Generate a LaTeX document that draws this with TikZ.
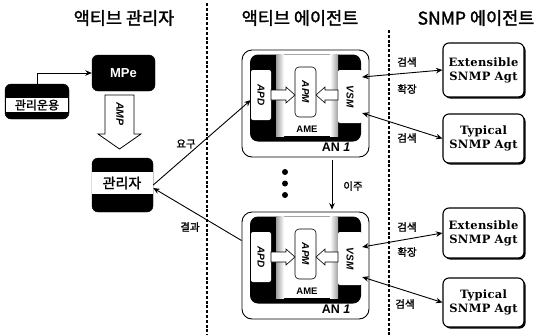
\documentclass[tikz,border=0pt]{standalone}
\usepackage{fontspec}
\usepackage{graphicx}
\usetikzlibrary{arrows.meta,shadows}
\setmainfont{Liberation Sans}
\newfontfamily\kr{Noto Sans CJK KR}[FakeBold=1.6]
\newfontfamily\serifb{DejaVu Serif}[LetterSpace=2.5]

\tikzset{
  blackbox/.style={draw=black, fill=black, rounded corners=6pt, inner sep=0pt},
  title/.style={font=\kr\fontsize{17.5}{19}\selectfont},
  lbl/.style={font=\kr\fontsize{10.5}{12}\selectfont, inner sep=0pt},
  anouter/.style={draw=black, line width=0.9pt, fill=white, rounded corners=10pt,
    minimum width=127pt, minimum height=107pt, inner sep=0pt},
  aninner/.style={fill=black, rounded corners=8pt,
    minimum width=111pt, minimum height=87pt, inner sep=0pt},
  unit/.style={fill=white, rounded corners=2pt, inner sep=0pt,
    font=\bfseries\itshape\fontsize{10}{12}\selectfont},
  hollow/.style={fill=white, draw=black, line width=0.6pt},
  agent/.style={draw=black, line width=1.1pt, fill=white, rounded corners=6pt,
    minimum width=81pt, align=center, inner sep=0pt,
    font=\serifb\bfseries\fontsize{11.5}{14}\selectfont,
    drop shadow={shadow xshift=1.6pt, shadow yshift=-1.6pt, fill=black, opacity=1}},
  divider/.style={line width=1.6pt, dash pattern=on 3pt off 1.8pt},
  conn/.style={line width=0.9pt}
}

% one active node: housing, execution environment and its three units
\newcommand\activenode[2]{%
\begin{scope}[shift={(0,#2)}]
  \node[anouter] (an#1) at (305.5,103.5) {};
  \node[aninner] (core#1) at (305.5,98) {};
  \fill[white] (276,54.5) rectangle (338,136);
  \shade[left color=gray!75, right color=white] (276,54.5) rectangle (284,136);
  \shade[left color=white, right color=gray!75] (330,54.5) rectangle (338,136);
  \node[unit, minimum width=20pt, minimum height=50pt] (apd#1) at (261,95) {\rotatebox{-90}{APD}};
  \node[unit, draw=black, line width=0.6pt, rounded corners=4pt,
        minimum width=21pt, minimum height=50pt] (apm#1) at (305.5,92) {\rotatebox{-90}{APM}};
  \node[unit, minimum width=24pt, minimum height=53pt] (vsm#1) at (350,96.5) {\rotatebox{-90}{VSM}};
  % hand-over arrows towards the manager unit
  \filldraw[hollow] (271,90) -- (286,90) -- (286,87) -- (295,95) -- (286,103)
    -- (286,100) -- (271,100) -- cycle;
  \filldraw[hollow] (338,90) -- (325,90) -- (325,87) -- (316,95) -- (325,103)
    -- (325,100) -- (338,100) -- cycle;
  \node[font=\bfseries\fontsize{9.5}{11}\selectfont, inner sep=0pt] (ame#1) at (307,129) {AME};
  \node[font=\bfseries\fontsize{12.5}{14}\selectfont, inner sep=0pt] (anl#1) at (336,147.5) {AN \textit{1}};
\end{scope}}

\begin{document}
\begin{tikzpicture}[x=1pt, y=-1pt, >={Stealth[length=6.5pt,width=5.5pt]}]
\useasboundingbox (0,0) rectangle (536,335);

% column headings
\node[title] (h1) at (124,18) {액티브 관리자};
\node[title] (h2) at (300,18) {액티브 에이전트};
\node[title] (h3) at (476,18) {SNMP 에이전트};

% column dividers
\draw[divider] (207,3) -- (207,335);
\draw[divider] (389,30) -- (389,335);

% active manager side
\node[blackbox, minimum width=63pt, minimum height=36pt,
      text=white, font=\bfseries\fontsize{13}{14}\selectfont] (mpe) at (123.5,73) {MPe};
\node[blackbox, minimum width=64pt, minimum height=35pt] (ops) at (37,101.5) {};
\fill[white] (6,98) rectangle (68,112);
\node[font=\kr\fontsize{12}{13}\selectfont, inner sep=0pt] (opst) at (37,105) {관리운용};
\draw[conn,->] (ops.north) |- (mpe.west);

% AMP hollow arrow
\filldraw[fill=white, draw=black, line width=0.8pt]
  (105,95) -- (134,95) -- (134,134) -- (141,134) -- (119.5,149)
  -- (98,134) -- (105,134) -- cycle;
\node[font=\bfseries\itshape\fontsize{10.5}{12}\selectfont, inner sep=0pt] (amp) at (120,114) {\rotatebox{-90}{AMP}};

\node[blackbox, minimum width=61pt, minimum height=54pt] (mgr) at (122.5,185) {};
\fill[white] (92,172) rectangle (153,194);
\node[font=\kr\fontsize{14}{15}\selectfont, inner sep=0pt] (mgrt) at (122,183) {관리자};

% the two active nodes
\activenode{A}{0}
\activenode{B}{162}

% continuation dots and migration
\fill (285,172) circle (3pt);
\fill (285,183.5) circle (3pt);
\fill (285,195) circle (3pt);
\draw[conn,->] ([xshift=26.5pt,yshift=-3pt]anA.south) -- ([xshift=26.5pt,yshift=2pt]anB.north);
\node[lbl] (mig) at (353,186) {이주};

% request and result
\draw[conn,->] (mgr.east) -- ([yshift=-5pt]apdA.west);
\node[lbl] (req) at (186,144) {요구};
\draw[conn,->] ([yshift=25pt]anB.west) -- ([yshift=-3pt]mgr.east);
\node[lbl] (res) at (190,227) {결과};

% SNMP agents
\node[agent, minimum height=54pt] (extA) at (483.5,70) {Extensible\\SNMP Agt};
\node[agent, minimum height=49pt] (typA) at (483.5,138.5) {Typical\\SNMP Agt};
\node[agent, minimum height=50pt] (extB) at (483.5,233) {Extensible\\SNMP Agt};
\node[agent, minimum height=49pt] (typB) at (483.5,302.5) {Typical\\SNMP Agt};

\draw[conn,<->] ([yshift=19.5pt]vsmA.east) -- (extA.west);
\draw[conn,<->] ([yshift=-16.5pt]vsmA.east) -- (typA.west);
\draw[conn,<->] ([yshift=11.5pt]vsmB.east) -- (extB.west);
\draw[conn,<->] ([yshift=-18.5pt]vsmB.east) -- (typB.west);

\node[lbl] (s1) at (407,62) {검색};
\node[lbl] (x1) at (407,89) {확장};
\node[lbl] (s2) at (407,138) {검색};
\node[lbl] (s3) at (407,227) {검색};
\node[lbl] (x2) at (407,252) {확장};
\node[lbl] (s4) at (405,304) {검색};
\end{tikzpicture}
\end{document}
